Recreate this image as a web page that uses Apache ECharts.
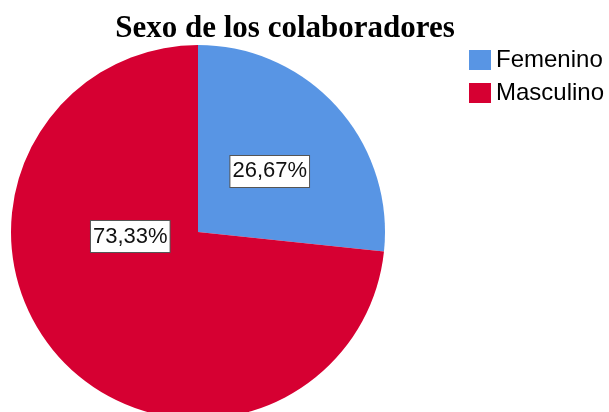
<!DOCTYPE html>
<html>
<head>
<meta charset="utf-8">
<script src="https://cdn.jsdelivr.net/npm/echarts@6/dist/echarts.min.js"></script>
<style>
  html, body { margin: 0; padding: 0; background: #fff; }
  #chart { width: 609px; height: 412px; }
</style>
</head>
<body>
<div id="chart"></div>
<script>
const categories = ['Femenino', 'Masculino'];
const percents = [26.67, 73.33];
const colors = ['#5895E4', '#D60032'];

const chart = echarts.init(document.getElementById('chart'));

const option = {
	animation: false,
	title: {
		text: 'Sexo de los colaboradores',
		left: 280,
		textAlign: 'center',
		top: 8,
		textStyle: {
			fontFamily: 'Liberation Serif',
			fontWeight: 'bold',
			fontSize: 31,
			color: '#000'
		}
	},
	legend: {
		orient: 'vertical',
		left: 469,
		top: 48,
		padding: 0,
		icon: 'rect',
		itemWidth: 22,
		itemHeight: 20,
		itemGap: 9,
		textStyle: {
			fontFamily: 'Liberation Sans',
			fontSize: 24,
			color: '#000'
		},
		data: categories
	},
	series: [{
		type: 'pie',
		center: [198, 232],
		radius: [0, 187],
		startAngle: 90,
		clockwise: true,
		silent: true,
		label: {
			position: 'inside',
			formatter: (p) => p.value.toFixed(2).replace('.', ',') + '%',
			fontFamily: 'Liberation Sans',
			fontSize: 22,
			color: '#111',
			backgroundColor: '#fff',
			borderColor: '#555',
			borderWidth: 1,
			padding: [5, 2, 4, 2]
		},
		labelLine: { show: false },
		data: categories.map((name, i) => ({
			name: name,
			value: percents[i],
			itemStyle: { color: colors[i] },
			label: i === 1 ? { offset: [4, -60] } : { offset: [0, 4] }
		}))
	}]
};

chart.setOption(option);
</script>
</body>
</html>
